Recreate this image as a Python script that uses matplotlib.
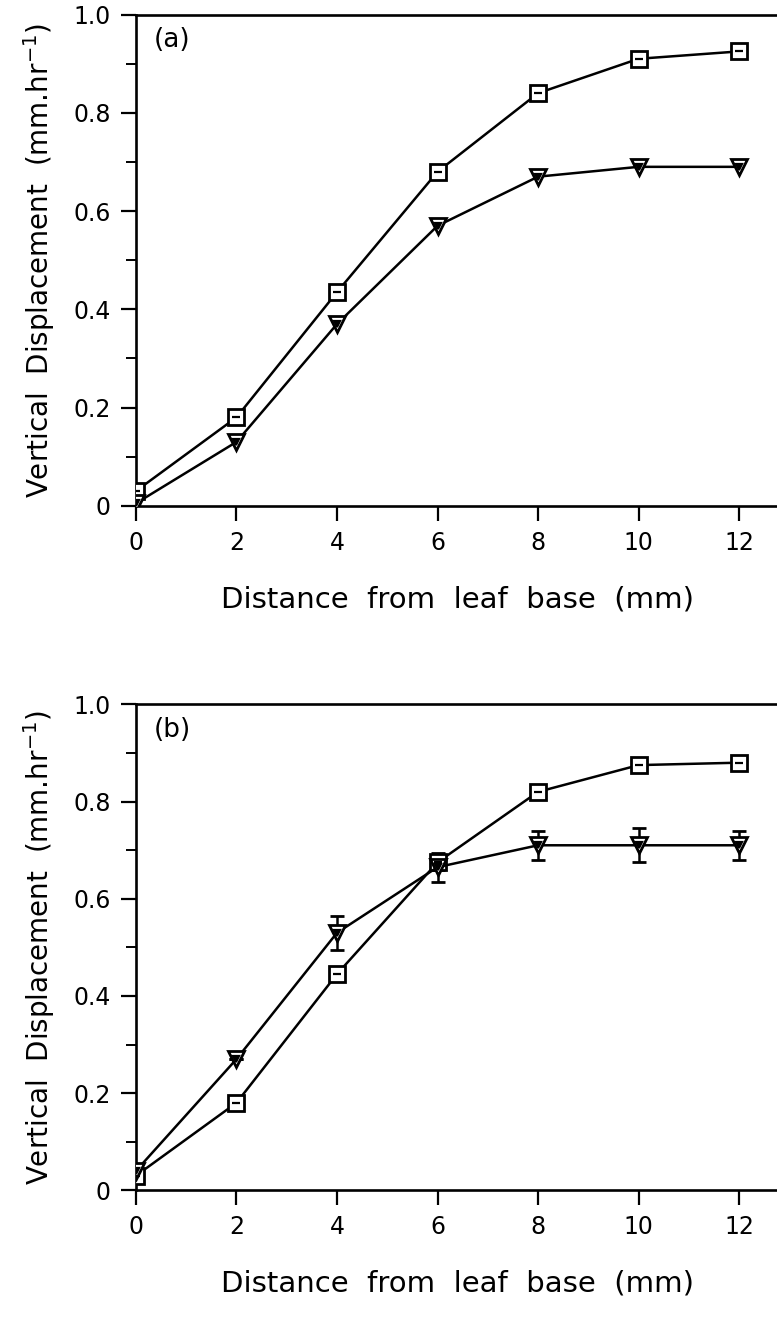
import matplotlib.pyplot as plt
import numpy as np

# Distance from leaf base (mm)
distance = [0, 2, 4, 6, 8, 10, 12]

# (a) vertical displacement rates (mm/hr)
a_square = [0.03, 0.18, 0.435, 0.68, 0.84, 0.91, 0.925]
a_triangle = [0.005, 0.13, 0.37, 0.57, 0.67, 0.69, 0.69]

# (b) vertical displacement rates (mm/hr) with standard errors
b_square = [0.03, 0.18, 0.445, 0.675, 0.82, 0.875, 0.88]
b_square_err = [0, 0, 0, 0.015, 0, 0, 0]
b_triangle = [0.04, 0.27, 0.53, 0.665, 0.71, 0.71, 0.71]
b_triangle_err = [0, 0, 0.035, 0.03, 0.03, 0.035, 0.03]

yticks = [0, 0.2, 0.4, 0.6, 0.8, 1.0]
ytick_labels = ['0', '0.2', '0.4', '0.6', '0.8', '1.0']
xticks = [0, 2, 4, 6, 8, 10, 12]

plt.rcParams['font.family'] = ['DejaVu Sans']

fig = plt.figure(figsize=(7.77, 13.24), dpi=100)
ax_a = fig.add_axes([0.175, 0.618, 0.828, 0.371])
ax_b = fig.add_axes([0.175, 0.101, 0.828, 0.367])


def draw_series(ax, y, err, marker, msize):
    ax.errorbar(distance, y, yerr=err, color='black', lw=1.8, capsize=5,
                elinewidth=1.8, capthick=1.8, marker=marker, ms=msize,
                mfc='white', mec='black', mew=2.0, zorder=3)
    # inner mark of the plotting symbol
    inner = '_' if marker == 's' else 'v'
    ax.plot(distance, y, linestyle='none', marker=inner, ms=msize * 0.45,
            color='black', mew=1.6, zorder=4)


def style_axes(ax, label):
    ax.set_xlim(0, 12.8)
    ax.set_ylim(0, 1.0)
    ax.set_xticks(xticks)
    ax.set_xticklabels([str(v) for v in xticks])
    ax.set_yticks(yticks)
    ax.set_yticklabels(ytick_labels)
    ax.set_yticks(np.arange(0.1, 1.0, 0.2), minor=True)
    ax.tick_params(axis='both', which='major', direction='out', length=11,
                   width=1.6, labelsize=17, pad=7)
    ax.tick_params(axis='y', which='minor', direction='out', length=7, width=1.4)
    for side in ['left', 'bottom', 'top', 'right']:
        ax.spines[side].set_linewidth(1.9)
    ax.set_xlabel('Distance  from  leaf  base  (mm)', fontsize=21, labelpad=22)
    ax.set_ylabel('Vertical  Displacement  (mm.hr$^{-1}$)', fontsize=20, labelpad=12)
    ax.text(0.35, 0.975, label, fontsize=19, va='top', ha='left')


draw_series(ax_a, a_square, None, 's', 12)
draw_series(ax_a, a_triangle, None, 'v', 11)
style_axes(ax_a, '(a)')

draw_series(ax_b, b_square, b_square_err, 's', 12)
draw_series(ax_b, b_triangle, b_triangle_err, 'v', 11)
style_axes(ax_b, '(b)')

fig.savefig('out.png', dpi=100)
